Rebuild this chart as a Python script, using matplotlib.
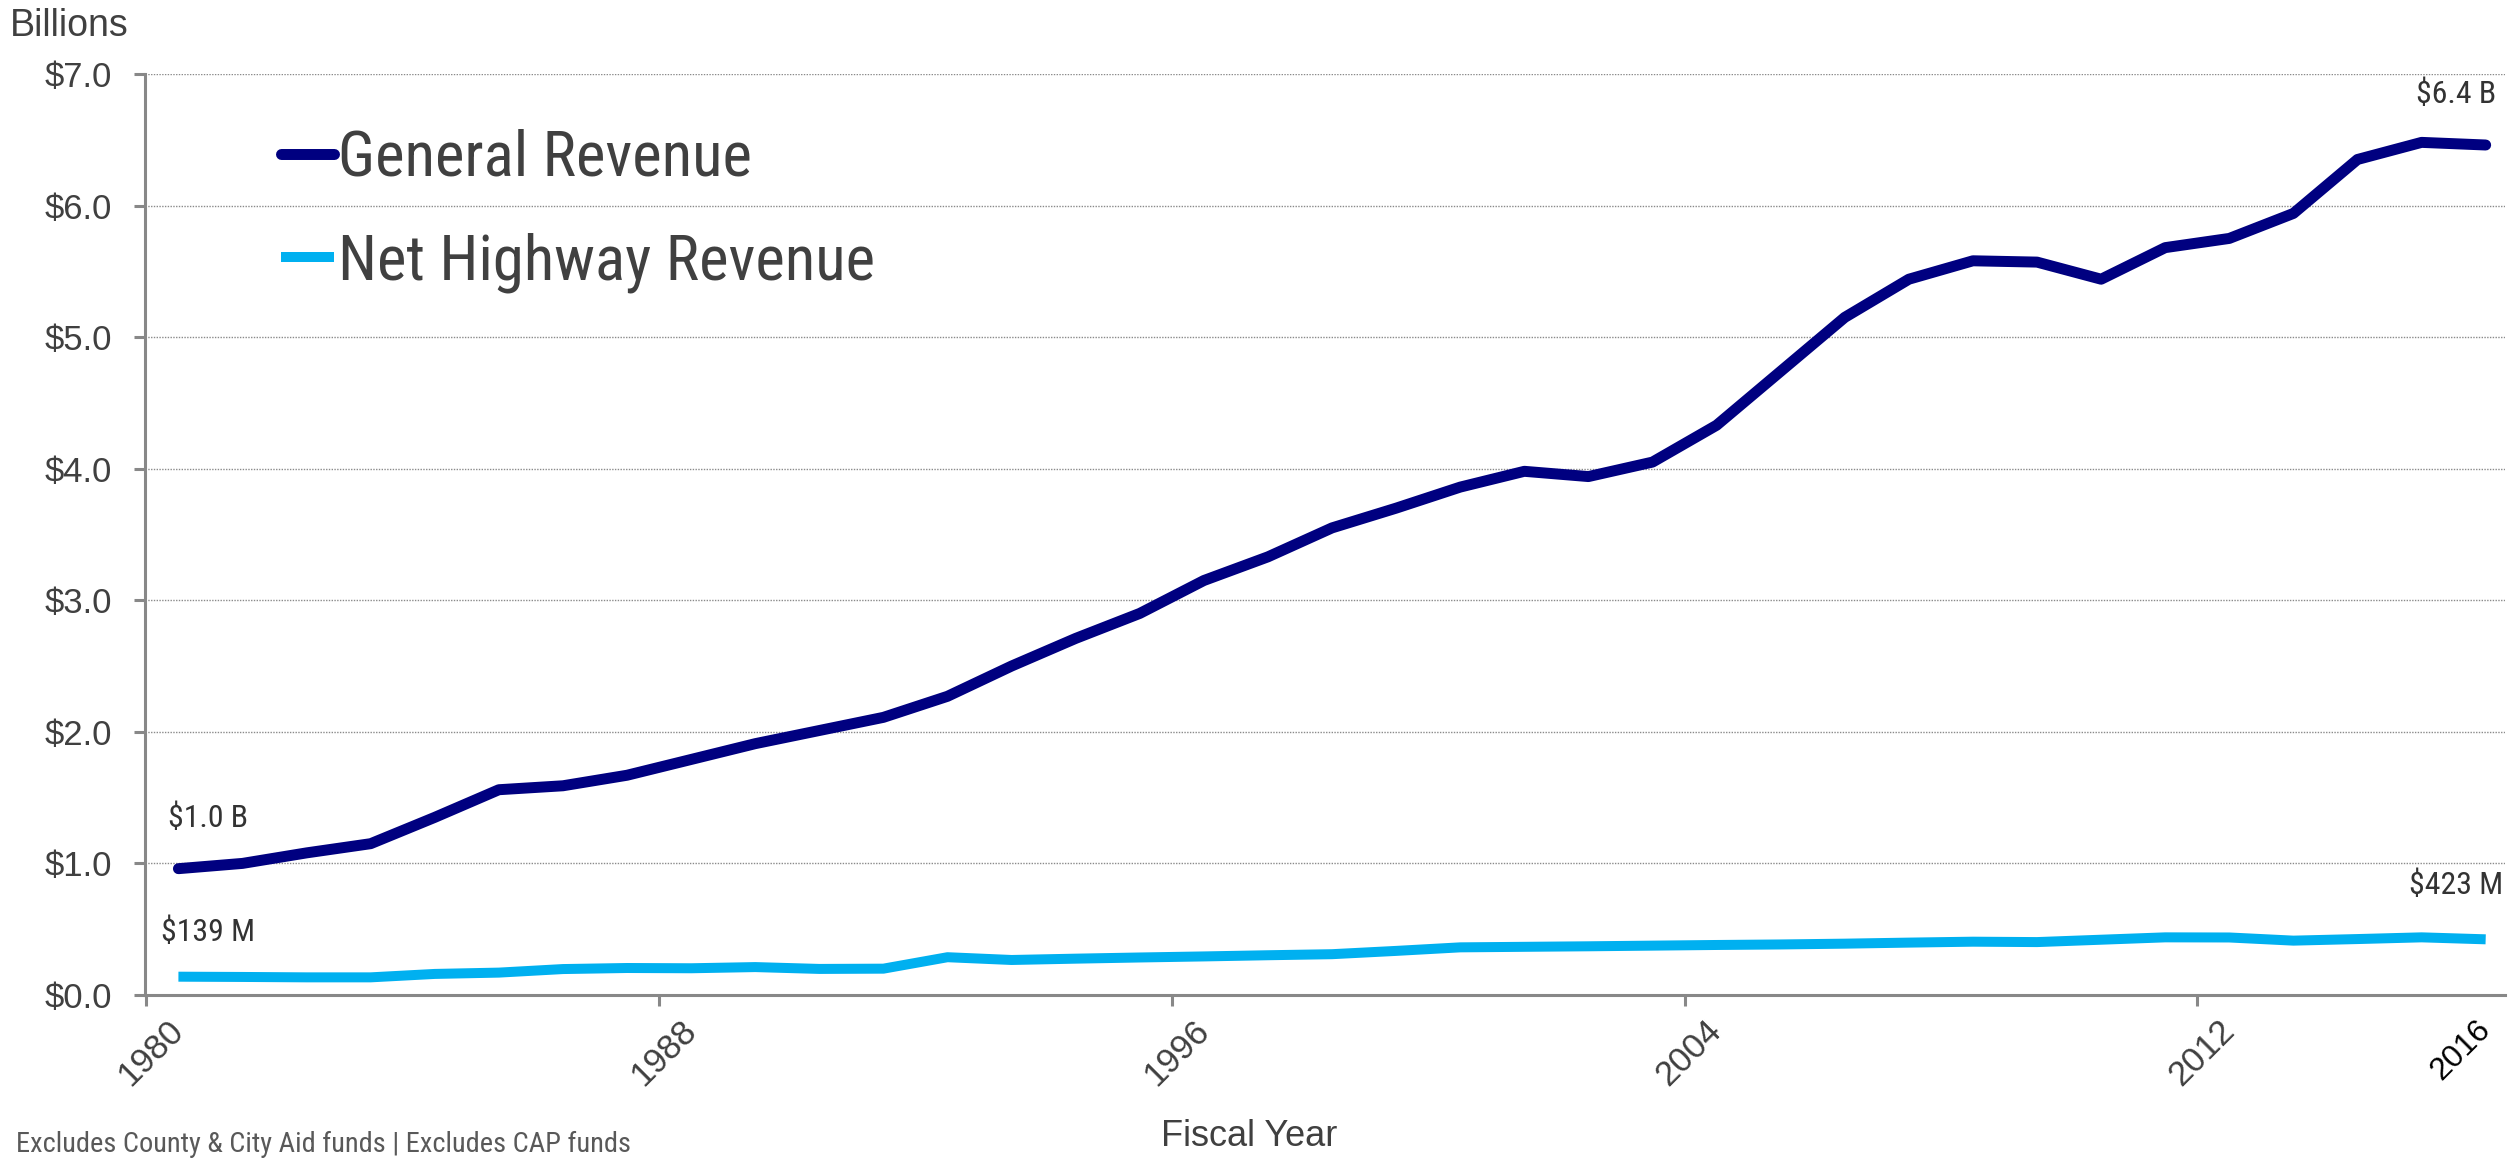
import matplotlib
matplotlib.use("Agg")
import matplotlib.pyplot as plt
from matplotlib import font_manager as fm

# fiscal years and revenue, billions of dollars
years = list(range(1980, 2017))
general = [0.96, 1.00, 1.08, 1.15, 1.35, 1.56, 1.59, 1.67, 1.79, 1.91,
           2.01, 2.11, 2.27, 2.50, 2.71, 2.90, 3.15, 3.33, 3.55, 3.70,
           3.86, 3.98, 3.94, 4.05, 4.33, 4.74, 5.15, 5.44, 5.58, 5.57,
           5.44, 5.68, 5.75, 5.94, 6.35, 6.48, 6.46]
highway = [0.139, 0.137, 0.134, 0.134, 0.160, 0.170, 0.197, 0.205, 0.203, 0.212,
           0.198, 0.200, 0.287, 0.266, 0.276, 0.285, 0.293, 0.302, 0.310, 0.335,
           0.362, 0.366, 0.370, 0.375, 0.380, 0.384, 0.390, 0.398, 0.405, 0.402,
           0.420, 0.438, 0.437, 0.413, 0.425, 0.438, 0.423]

year_labels = [1980, 1988, 1996, 2004, 2012, 2016]
y_ticks = [0, 1, 2, 3, 4, 5, 6, 7]
first_labels = ["$1.0 B", "$139 M"]
last_labels = ["$6.4 B", "$423 M"]
footnote = "Excludes County & City Aid funds | Excludes CAP funds"


def condensed_font():
    # look for a narrow sans face, else plain Liberation Sans
    entries = fm.fontManager.ttflist
    ok_w = (400, "normal", "regular", "book")
    for name in ["Liberation Sans Narrow", "Arial Narrow", "Roboto Condensed"]:
        for f in entries:
            if f.name == name and f.style == "normal" and f.weight in ok_w:
                return fm.FontProperties(fname=f.fname)
    for f in entries:
        if (f.stretch in ("condensed", "semi-condensed") and f.style == "normal"
                and f.weight in ok_w and "Mono" not in f.name
                and "Serif" not in f.name):
            return fm.FontProperties(fname=f.fname)
    return fm.FontProperties(family="Liberation Sans")


regular = ["Liberation Sans", "DejaVu Sans"]
plt.rcParams["font.family"] = regular
narrow = condensed_font()

grey = "#888888"
text_col = "#404040"

fig = plt.figure(figsize=(25.19, 11.61), dpi=100)
renderer = fig.canvas.get_renderer()


def fit_size(s, prop, target_px, base=40.0):
    t = fig.text(0, 0, s, fontproperties=prop, fontsize=base)
    w = t.get_window_extent(renderer).width
    t.remove()
    return base * target_px / w


ax = fig.add_axes([0.0576, 0.143, 0.9368, 0.7933])

ax.plot(years, general, color="#000080", lw=7.9, solid_capstyle="round",
        solid_joinstyle="round", label="General Revenue", zorder=3)
ax.plot(years, highway, color="#00B0F0", lw=7.2, solid_capstyle="butt",
        solid_joinstyle="round", label="Net Highway Revenue", zorder=3)

ax.set_xlim(1979.48, 2016.3)
ax.set_ylim(0, 7)

ax.set_yticks(y_ticks)
ax.set_yticklabels(["$%.1f" % v for v in y_ticks])
ax.grid(axis="y", color="#8a8a8a", linestyle=(0, (1, 1)), lw=1.0)
ax.set_axisbelow(True)

ax.set_xticks(year_labels)
ax.set_xticklabels([str(y) for y in year_labels], fontsize=25,
                   rotation=45, ha="right", va="center", rotation_mode="anchor",
                   color=text_col)
ax.get_xticklabels()[-1].set_color("black")
ax.get_xticklabels()[-1].set_fontsize(23)
ax.set_xticks([1979.5, 1987.5, 1995.5, 2003.5, 2011.5, 2016], minor=True)

ax.tick_params(axis="x", which="major", length=0, pad=22)
ax.tick_params(axis="x", which="minor", length=8, width=2.2, color=grey)
ax.tick_params(axis="y", length=8, width=2.2, color=grey, pad=16,
               labelsize=25, labelcolor=text_col)

for s in ["top", "right"]:
    ax.spines[s].set_visible(False)
for s in ["left", "bottom"]:
    ax.spines[s].set_color(grey)
    ax.spines[s].set_linewidth(2.2)

# end labels
lab_size = fit_size(last_labels[0], narrow, 80)
for lab, series, dy in zip(first_labels, [general, highway], [50, 44]):
    ax.annotate(lab, (years[0], series[0]), xytext=(30, dy),
                textcoords="offset pixels", ha="center", va="center",
                fontproperties=narrow, fontsize=lab_size, color="#333333")
for lab, series, dy in zip(last_labels, [general, highway], [51, 54]):
    ax.annotate(lab, (years[-1], series[-1]), xytext=(-30, dy),
                textcoords="offset pixels", ha="center", va="center",
                fontproperties=narrow, fontsize=lab_size, color="#333333")

leg_pt = fit_size("General Revenue", narrow, 414)
leg_px = leg_pt * 100 / 72
leg_prop = narrow.copy()
leg_prop.set_size(leg_pt)
leg = ax.legend(loc="center left", bbox_to_anchor=(0.1116, 0.8185),
                bbox_transform=fig.transFigure, frameon=False, prop=leg_prop,
                handlelength=53 / leg_px, handletextpad=4 / leg_px,
                labelspacing=103 / leg_px - 0.94, borderpad=0, borderaxespad=0)
for t in leg.get_texts():
    t.set_color(text_col)

fig.text(10 / 2519, 1 - 26 / 1161, "Billions", fontsize=27,
         color=text_col, ha="left", va="center")
fig.text(1249 / 2519, 1 - 1137 / 1161, "Fiscal Year",
         fontsize=26, color=text_col, ha="center", va="center")
fig.text(16 / 2519, 1 - 1144 / 1161, footnote, fontproperties=narrow,
         fontsize=fit_size(footnote, narrow, 615), color="#595959",
         ha="left", va="center")

fig.savefig("out.png", dpi=100)
